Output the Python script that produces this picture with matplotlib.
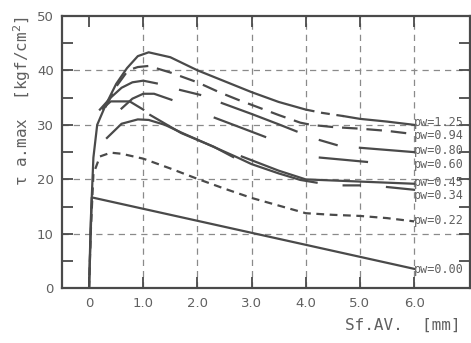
import numpy as np
import matplotlib
matplotlib.use("Agg")
import matplotlib.pyplot as plt

nan = np.nan
# --- data (x = Sf.AV. [mm], y = tau a.max [kgf/cm2]) ---
x125 = [0, 0.03, 0.08, 0.15, 0.3, 0.5, 0.7, 0.9, 1.1, 1.5, 2.0, 2.5, 3.0, 3.5, 4.0]
y125 = [0, 12, 24, 30, 33.5, 37.5, 40.4, 42.6, 43.3, 42.4, 40.0, 38.0, 36.0, 34.2, 32.8]
x125b = [4.0, 4.3, 4.7]
y125b = [32.8, 32.2, 31.6]
x125c = [4.7, 5.0, 5.5, 6.0]
y125c = [31.6, 31.1, 30.6, 30.0]

x094 = [0.3, 0.5, 0.72, 0.9, 1.1, 1.5, 2.0, 2.4, 2.75, 3.1, 3.5, 3.9, 4.1, 4.5, 5.0, 5.5, 6.0]
y094 = [33.2, 37.0, 40.0, 40.6, 40.8, 39.6, 37.8, 36.0, 34.6, 33.3, 31.8, 30.4, 30.0, 29.6, 29.3, 28.9, 28.3]

x080 = [0.2, 0.4, 0.6, 0.8, 1.0, 1.25, nan, 1.68, 2.05, nan, 2.45, 3.0, 3.5, 3.83, nan, 4.26, 4.57, nan, 5.0, 5.5, 6.0]
y080 = [32.8, 35.0, 36.8, 37.8, 38.1, 37.6, nan, 36.4, 35.5, nan, 34.0, 32.0, 30.1, 28.8, nan, 27.2, 26.3, nan, 25.8, 25.4, 25.0]

x060 = [0.6, 0.8, 1.0, 1.2, 1.52, nan, 2.32, 2.8, 3.25, nan, 4.26, 4.7, 5.13]
y060 = [33.0, 34.8, 35.7, 35.7, 34.6, nan, 31.3, 29.5, 27.8, nan, 24.0, 23.6, 23.2]

x045 = [0.25, 0.4, 0.75, 1.0, nan, 1.13, 1.7, 2.3, 2.66, nan, 2.82, 3.5, 4.0, 4.5, 5.0, 5.5, 6.0]
y045 = [33.0, 34.3, 34.3, 32.8, nan, 31.8, 28.5, 26.0, 24.1, nan, 24.2, 21.6, 20.0, 19.8, 19.6, 19.4, 19.2]

x034 = [0.33, 0.6, 0.9, 1.1, 1.4, 1.7, 2.2, 2.7, 3.0, 3.5, 3.9, 4.2, nan, 4.7, 5.0, nan, 5.5, 6.0]
y034 = [27.6, 30.2, 31.0, 30.9, 30.0, 28.6, 26.4, 24.2, 22.8, 21.1, 19.9, 19.4, nan, 18.9, 18.9, nan, 18.6, 18.1]

x022 = [0, 0.03, 0.08, 0.2, 0.4, 0.6, 1.0, 1.5, 2.0, 2.5, 3.0, 3.5, 4.0, 4.5, 5.0, 5.5, 6.0]
y022 = [0, 10, 21, 24.2, 24.9, 24.7, 23.8, 22.0, 20.1, 18.3, 16.6, 15.2, 13.8, 13.5, 13.3, 12.9, 12.3]

x000 = [0, 0.05, 6.0]
y000 = [0, 16.7, 3.6]

labels = ["pw=1.25", "pw=0.94", "pw=0.80", "pw=0.60", "pw=0.45", "pw=0.34", "pw=0.22", "pw=0.00"]
label_y = [30.4, 28.0, 25.3, 22.8, 19.4, 17.0, 12.4, 3.4]

xticks = [0, 1, 2, 3, 4, 5, 6]
xticklabels = ["0", "1.0", "2.0", "3.0", "4.0", "5.0", "6.0"]
yticks = [0, 10, 20, 30, 40, 50]
grid_x = [1, 2, 3, 4, 5, 6]
grid_y = [10, 20, 30, 40]

lc = "#4a4a4a"
tc = "#606060"

fig = plt.figure(figsize=(4.71, 3.43), dpi=100)
ax = fig.add_axes([0.1316, 0.159, 0.866, 0.795])
ax.set_xlim(-0.5, 7.03)
ax.set_ylim(0, 50)

for g in grid_x:
    ax.axvline(g, color="#8a8a8a", lw=0.9, ls=(0, (5, 4)), zorder=1)
for g in grid_y:
    ax.axhline(g, color="#8a8a8a", lw=0.9, ls=(0, (5, 4)), zorder=1)

kw = dict(color=lc, lw=1.6, zorder=3)
ax.plot(x125, y125, **kw)
ax.plot(x125b, y125b, ls=(0, (4, 3)), **kw)
ax.plot(x125c, y125c, **kw)
ax.plot(x094, y094, ls=(0, (7, 4)), **kw)
ax.plot(x080, y080, **kw)
ax.plot(x060, y060, **kw)
ax.plot(x045, y045, **kw)
ax.plot(x034, y034, **kw)
ax.plot(x022, y022, ls=(0, (3.5, 2.5)), **kw)
ax.plot(x000, y000, **kw)

for lab, ly in zip(labels, label_y):
    ax.text(6.0, ly, lab, fontsize=8.5, family="DejaVu Sans Mono", color=tc,
            va="center", ha="left", zorder=4)

ax.set_xticks(xticks)
ax.set_xticklabels(xticklabels)
ax.set_yticks(yticks)
ax.set_yticks([5, 15, 25, 35, 45], minor=True)
ax.tick_params(axis="both", which="major", direction="in", length=8, width=1.3,
               colors=lc, labelcolor=tc, labelsize=9.5, top=True, right=True, pad=6)
ax.tick_params(axis="y", which="minor", direction="in", length=8, width=1.3,
               colors=lc, right=True)
for s in ax.spines.values():
    s.set_color(lc)
    s.set_linewidth(1.6)

fig.text(0.047, 0.705, "τ a.max  [kgf/cm$^2$]", rotation=90, ha="center", va="center",
         fontsize=11.5, family="DejaVu Sans Mono", color=tc)
fig.text(0.855, 0.052, "Sf.AV.  [mm]", ha="center", va="center",
         fontsize=11.5, family="DejaVu Sans Mono", color=tc)

fig.savefig("out.png", dpi=100)
